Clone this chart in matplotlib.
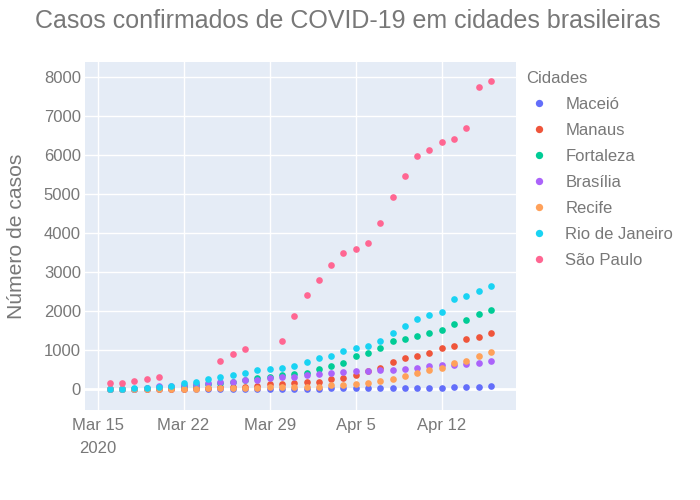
import numpy as np
import matplotlib
matplotlib.use('Agg')
import matplotlib.pyplot as plt

nan = np.nan

# Mar 16 .. Apr 16, 2020
dates = np.arange(np.datetime64('2020-03-16'), np.datetime64('2020-04-17'))

maceio = [0, 0, 1, 1, 3, 4, 4, 5, 6, 6, 7, 8, 9, 10, 11, 11,
          12, 13, 14, 15, 16, 17, 18, 19, 22, 25, 30, 35, 40, 45, 55, 70]
manaus = [0, 0, 0, 2, 3, 5, 10, 20, 30, 40, 55, 60, 85, 120, 128, 162,
          170, 188, 265, 274, 359, 450, 547, 700, 786, 855, 923, 1043, 1100, 1282, 1342, 1445]
fortaleza = [0, 5, 10, 15, 40, 60, 90, 110, 130, 160, 180, 230, 290, 316, 359, 385,
             402, 513, 590, 670, 855, 915, 1043, 1222, 1274, 1360, 1445, 1520, 1675, 1777, 1930, 2025]
brasilia = [0, 0, 5, 20, 69, 80, 110, 136, 154, 172, 188, 238, 238, 274, 300, 316,
            350, 385, 402, 444, 462, 470, 495, 495, 513, 547, 582, 607, 623, 633, 675, 718]
recife = [0, 0, 0, 5, 5, 8, 10, 12, 15, 15, 18, 20, 26, 43, 51, 55,
          55, 60, 94, 105, 128, 146, 213, 249, 326, 403, 480, 547, 659, 726, 846, 949]
rio = [5, 10, 33, 33, 60, 85, 146, 187, 256, 315, 359, 418, 480, 505, 547, 582,
       684, 786, 855, 970, 1060, 1100, 1240, 1445, 1625, 1800, 1895, 1980, 2305, 2385, 2510, 2650]
sao_paulo = [146, 154, 205, 249, 300, nan, nan, nan, nan, 710, 890, 1033, nan, nan, 1222, 1872,
             2410, 2795, 3190, 3480, 3600, 3745, 4250, 4930, 5460, 5965, 6120, 6340, 6400, 6690, 7750, 7900]

cities = ['Maceió', 'Manaus', 'Fortaleza', 'Brasília', 'Recife', 'Rio de Janeiro', 'São Paulo']
series = [maceio, manaus, fortaleza, brasilia, recife, rio, sao_paulo]
colors = ['#636EFA', '#EF553B', '#00CC96', '#AB63FA', '#FFA15A', '#19D3F3', '#FF6692']

text_color = '#787878'
plt.rcParams['font.family'] = ['Liberation Sans', 'DejaVu Sans']

fig = plt.figure(figsize=(7, 5), dpi=100)
ax = fig.add_axes([85 / 700, 1 - 410 / 500, (516 - 85) / 700, (410 - 62) / 500])
ax.set_facecolor('#E5ECF6')

for name, vals, c in zip(cities, series, colors):
    ax.plot(dates, vals, 'o', color=c, markersize=4.8, markeredgewidth=0, label=name)

ax.set_xlim(np.datetime64('2020-03-13T23:30'), np.datetime64('2020-04-18T01:00'))
ax.set_ylim(-538, 8385)

ax.set_yticks([0, 1000, 2000, 3000, 4000, 5000, 6000, 7000, 8000])
xt = [np.datetime64('2020-03-15'), np.datetime64('2020-03-22'), np.datetime64('2020-03-29'),
      np.datetime64('2020-04-05'), np.datetime64('2020-04-12')]
ax.set_xticks(xt)
ax.set_xticklabels(['Mar 15\n2020', 'Mar 22', 'Mar 29', 'Apr 5', 'Apr 12'])
for lbl in ax.get_xticklabels():
    lbl.set_horizontalalignment('center')
    lbl.set_verticalalignment('top')
ax.get_xticklabels()[0].set_linespacing(1.6)

ax.grid(True, color='white', linewidth=1)
ax.axhline(0, color='white', linewidth=2, zorder=1.5)
ax.set_axisbelow(True)
for s in ax.spines.values():
    s.set_visible(False)
ax.tick_params(length=0, labelsize=12, labelcolor=text_color)
ax.tick_params(axis='x', pad=6)
ax.tick_params(axis='y', pad=3)

ax.set_ylabel('Número de casos', fontsize=15.2, color=text_color, labelpad=13)

fig.text(35 / 700, 1 - 21 / 500, 'Casos confirmados de COVID-19 em cidades brasileiras',
         fontsize=18.0, color=text_color, va='center', ha='left')

leg = ax.legend(loc='upper left', bbox_to_anchor=(511 / 700, 1 - 56 / 500),
                bbox_transform=fig.transFigure, frameon=False, title='Cidades',
                fontsize=12, title_fontsize=12, labelspacing=0.66,
                handletextpad=0.75, handlelength=1.6, alignment='left', markerscale=1.1)
for t in leg.get_texts():
    t.set_color(text_color)
leg.get_title().set_color(text_color)

fig.savefig('out.png', dpi=100)
